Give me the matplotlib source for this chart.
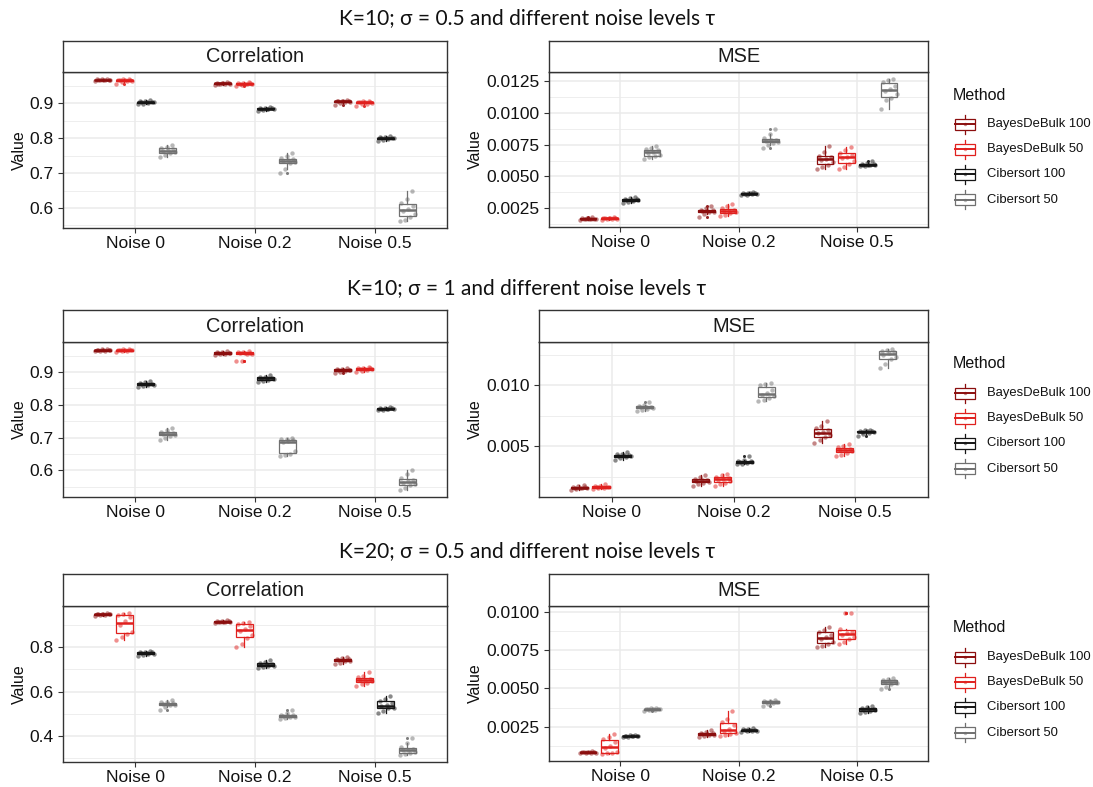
import numpy as np
import matplotlib
matplotlib.use("Agg")
import matplotlib.pyplot as plt
from matplotlib.patches import Rectangle

# ---------------- data ----------------
noise_levels = ["Noise 0", "Noise 0.2", "Noise 0.5"]
methods = ["BayesDeBulk 100", "BayesDeBulk 50", "Cibersort 100", "Cibersort 50"]
method_colors = ["#8B0E0E", "#E0201E", "#151515", "#707070"]
row_titles = ["K=10; \u03c3 = 0.5 and different noise levels \u03c4",
              "K=10; \u03c3 = 1 and different noise levels \u03c4",
              "K=20; \u03c3 = 0.5 and different noise levels \u03c4"]
metric_names = ["Correlation", "MSE"]

# Row 1 (K=10, sigma=0.5) - Correlation, per method: [Noise 0, Noise 0.2, Noise 0.5]
r1_corr_bdb100 = [[0.964,0.965,0.966,0.966,0.967,0.967,0.967,0.968,0.968,0.969],
                  [0.953,0.954,0.955,0.956,0.956,0.957,0.957,0.958,0.958,0.960],
                  [0.895,0.900,0.903,0.904,0.905,0.905,0.906,0.906,0.907,0.908]]
r1_corr_bdb50 = [[0.955,0.960,0.963,0.964,0.965,0.965,0.966,0.967,0.968,0.969],
                 [0.950,0.952,0.954,0.955,0.955,0.956,0.957,0.957,0.958,0.960],
                 [0.893,0.897,0.899,0.901,0.902,0.902,0.903,0.904,0.905,0.907]]
r1_corr_cib100 = [[0.898,0.899,0.901,0.902,0.903,0.903,0.904,0.905,0.906,0.909],
                  [0.879,0.880,0.882,0.883,0.884,0.884,0.885,0.885,0.886,0.888],
                  [0.792,0.794,0.797,0.799,0.800,0.800,0.801,0.802,0.803,0.806]]
r1_corr_cib50 = [[0.745,0.752,0.757,0.760,0.763,0.766,0.770,0.773,0.776,0.781],
                 [0.700,0.712,0.728,0.731,0.734,0.736,0.739,0.742,0.748,0.757],
                 [0.563,0.566,0.575,0.583,0.590,0.598,0.605,0.614,0.625,0.648]]
# Row 1 - MSE
r1_mse_bdb100 = [[0.00158,0.00162,0.00164,0.00166,0.00167,0.00168,0.00169,0.00171,0.00174,0.00180],
                 [0.00180,0.00205,0.00218,0.00222,0.00228,0.00232,0.00236,0.00240,0.00255,0.00270],
                 [0.00560,0.00575,0.00590,0.00610,0.00630,0.00640,0.00650,0.00660,0.00690,0.00740]]
r1_mse_bdb50 = [[0.00160,0.00163,0.00166,0.00168,0.00170,0.00171,0.00172,0.00174,0.00177,0.00182],
                [0.00190,0.00200,0.00210,0.00220,0.00228,0.00232,0.00240,0.00250,0.00265,0.00280],
                [0.00560,0.00575,0.00600,0.00625,0.00645,0.00655,0.00670,0.00685,0.00705,0.00730]]
r1_mse_cib100 = [[0.00288,0.00298,0.00306,0.00311,0.00314,0.00316,0.00319,0.00323,0.00330,0.00340],
                 [0.00352,0.00356,0.00360,0.00362,0.00364,0.00366,0.00367,0.00369,0.00372,0.00377],
                 [0.00578,0.00582,0.00586,0.00589,0.00591,0.00593,0.00595,0.00598,0.00604,0.00625]]
r1_mse_cib50 = [[0.00640,0.00650,0.00660,0.00670,0.00685,0.00695,0.00705,0.00712,0.00725,0.00740],
                [0.00720,0.00745,0.00765,0.00772,0.00778,0.00783,0.00790,0.00800,0.00830,0.00870],
                [0.01030,0.01100,0.01115,0.01150,0.01175,0.01190,0.01210,0.01240,0.01255,0.01265]]

# Row 2 (K=10, sigma=1) - Correlation
r2_corr_bdb100 = [[0.963,0.964,0.965,0.966,0.967,0.967,0.968,0.968,0.969,0.970],
                  [0.953,0.955,0.956,0.957,0.958,0.958,0.959,0.960,0.961,0.963],
                  [0.897,0.901,0.903,0.905,0.906,0.906,0.907,0.908,0.909,0.911]]
r2_corr_bdb50 = [[0.962,0.964,0.965,0.966,0.967,0.967,0.968,0.968,0.969,0.970],
                 [0.932,0.934,0.954,0.956,0.957,0.958,0.959,0.960,0.962,0.965],
                 [0.901,0.904,0.907,0.908,0.909,0.910,0.911,0.912,0.913,0.915]]
r2_corr_cib100 = [[0.854,0.857,0.859,0.861,0.862,0.863,0.864,0.866,0.868,0.872],
                  [0.870,0.873,0.876,0.878,0.880,0.881,0.882,0.884,0.886,0.890],
                  [0.783,0.785,0.786,0.787,0.788,0.788,0.789,0.790,0.791,0.794]]
r2_corr_cib50 = [[0.693,0.700,0.706,0.709,0.711,0.713,0.715,0.718,0.722,0.728],
                 [0.645,0.648,0.651,0.660,0.686,0.689,0.692,0.694,0.696,0.698],
                 [0.540,0.547,0.555,0.558,0.562,0.566,0.570,0.575,0.590,0.600]]
# Row 2 - MSE
r2_mse_bdb100 = [[0.00140,0.00148,0.00152,0.00155,0.00158,0.00160,0.00162,0.00165,0.00170,0.00178],
                 [0.00175,0.00190,0.00200,0.00208,0.00215,0.00220,0.00225,0.00232,0.00245,0.00260],
                 [0.00530,0.00550,0.00575,0.00590,0.00605,0.00615,0.00630,0.00650,0.00670,0.00705]]
r2_mse_bdb50 = [[0.00150,0.00155,0.00158,0.00161,0.00164,0.00166,0.00168,0.00171,0.00176,0.00185],
                [0.00170,0.00190,0.00200,0.00212,0.00225,0.00232,0.00240,0.00250,0.00262,0.00272],
                [0.00420,0.00430,0.00445,0.00460,0.00468,0.00472,0.00480,0.00490,0.00500,0.00520]]
r2_mse_cib100 = [[0.00390,0.00405,0.00412,0.00418,0.00422,0.00425,0.00428,0.00432,0.00440,0.00450],
                 [0.00350,0.00356,0.00362,0.00367,0.00370,0.00373,0.00377,0.00382,0.00390,0.00420],
                 [0.00585,0.00600,0.00612,0.00617,0.00620,0.00622,0.00624,0.00627,0.00630,0.00635]]
r2_mse_cib50 = [[0.00790,0.00800,0.00810,0.00815,0.00820,0.00823,0.00827,0.00832,0.00840,0.00860],
                [0.00870,0.00880,0.00900,0.00910,0.00925,0.00935,0.00965,0.01000,0.01010,0.01020],
                [0.01140,0.01180,0.01215,0.01235,0.01255,0.01265,0.01275,0.01285,0.01292,0.01300]]

# Row 3 (K=20, sigma=0.5) - Correlation
r3_corr_bdb100 = [[0.942,0.944,0.946,0.947,0.948,0.948,0.949,0.950,0.951,0.953],
                  [0.909,0.911,0.913,0.914,0.915,0.915,0.916,0.917,0.918,0.920],
                  [0.725,0.730,0.736,0.739,0.742,0.743,0.745,0.747,0.750,0.754]]
r3_corr_bdb50 = [[0.832,0.845,0.860,0.870,0.900,0.918,0.935,0.945,0.948,0.952],
                 [0.800,0.812,0.840,0.855,0.872,0.882,0.895,0.905,0.908,0.912],
                 [0.625,0.633,0.640,0.646,0.650,0.654,0.658,0.664,0.672,0.690]]
r3_corr_cib100 = [[0.758,0.763,0.767,0.770,0.772,0.774,0.776,0.778,0.780,0.783],
                  [0.705,0.710,0.714,0.717,0.720,0.722,0.724,0.727,0.732,0.742],
                  [0.505,0.512,0.524,0.528,0.533,0.538,0.548,0.558,0.565,0.578]]
r3_corr_cib50 = [[0.515,0.530,0.538,0.541,0.544,0.546,0.548,0.551,0.555,0.562],
                 [0.477,0.481,0.484,0.487,0.489,0.491,0.493,0.496,0.505,0.518],
                 [0.315,0.320,0.324,0.330,0.335,0.338,0.343,0.350,0.370,0.390]]
# Row 3 - MSE
r3_mse_bdb100 = [[0.00075,0.00078,0.00080,0.00081,0.00082,0.00083,0.00084,0.00085,0.00087,0.00090],
                 [0.00180,0.00188,0.00194,0.00198,0.00201,0.00203,0.00206,0.00210,0.00216,0.00228],
                 [0.00770,0.00780,0.00790,0.00805,0.00825,0.00835,0.00850,0.00870,0.00880,0.00900]]
r3_mse_bdb50 = [[0.00072,0.00075,0.00078,0.00082,0.00110,0.00125,0.00150,0.00168,0.00180,0.00200],
                [0.00190,0.00198,0.00205,0.00212,0.00222,0.00235,0.00260,0.00280,0.00300,0.00355],
                [0.00790,0.00805,0.00820,0.00835,0.00850,0.00862,0.00870,0.00885,0.00990,0.00992]]
r3_mse_cib100 = [[0.00182,0.00185,0.00187,0.00188,0.00189,0.00190,0.00191,0.00192,0.00194,0.00197],
                 [0.00215,0.00219,0.00222,0.00224,0.00226,0.00228,0.00230,0.00232,0.00235,0.00240],
                 [0.00340,0.00347,0.00353,0.00358,0.00362,0.00365,0.00368,0.00372,0.00378,0.00388]]
r3_mse_cib50 = [[0.00352,0.00358,0.00361,0.00363,0.00365,0.00366,0.00367,0.00368,0.00370,0.00374],
                [0.00383,0.00398,0.00404,0.00408,0.00410,0.00412,0.00414,0.00416,0.00419,0.00425],
                [0.00495,0.00510,0.00530,0.00538,0.00543,0.00547,0.00550,0.00555,0.00560,0.00568]]

# y tick values / labels per panel
r1_corr_ticks = [0.6, 0.7, 0.8, 0.9]
r1_corr_labels = ["0.6", "0.7", "0.8", "0.9"]
r1_mse_ticks = [0.0025, 0.0050, 0.0075, 0.0100, 0.0125]
r1_mse_labels = ["0.0025", "0.0050", "0.0075", "0.0100", "0.0125"]
r2_corr_ticks = [0.6, 0.7, 0.8, 0.9]
r2_corr_labels = ["0.6", "0.7", "0.8", "0.9"]
r2_mse_ticks = [0.005, 0.010]
r2_mse_labels = ["0.005", "0.010"]
r3_corr_ticks = [0.4, 0.6, 0.8]
r3_corr_labels = ["0.4", "0.6", "0.8"]
r3_mse_ticks = [0.0025, 0.0050, 0.0075, 0.0100]
r3_mse_labels = ["0.0025", "0.0050", "0.0075", "0.0100"]

panels_data = [
    [[r1_corr_bdb100, r1_corr_bdb50, r1_corr_cib100, r1_corr_cib50],
     [r1_mse_bdb100, r1_mse_bdb50, r1_mse_cib100, r1_mse_cib50]],
    [[r2_corr_bdb100, r2_corr_bdb50, r2_corr_cib100, r2_corr_cib50],
     [r2_mse_bdb100, r2_mse_bdb50, r2_mse_cib100, r2_mse_cib50]],
    [[r3_corr_bdb100, r3_corr_bdb50, r3_corr_cib100, r3_corr_cib50],
     [r3_mse_bdb100, r3_mse_bdb50, r3_mse_cib100, r3_mse_cib50]],
]
panels_ticks = [[(r1_corr_ticks, r1_corr_labels), (r1_mse_ticks, r1_mse_labels)],
                [(r2_corr_ticks, r2_corr_labels), (r2_mse_ticks, r2_mse_labels)],
                [(r3_corr_ticks, r3_corr_labels), (r3_mse_ticks, r3_mse_labels)]]

# ---------------- layout (pixels) ----------------
W, H = 1093, 787
FONT = "Liberation Sans"
plt.rcParams["font.family"] = [FONT, "DejaVu Sans"]

# (x0, x1, y_top, y_bottom) of plotting panels, strip top
layout = [
    [(63, 447, 72, 228), (549, 928, 72, 227)],
    [(63, 447, 342, 497), (539, 928, 342, 497)],
    [(63, 447, 606, 762), (549, 928, 606, 761)],
]
strip_tops = [41, 310, 574]
title_y = [18, 288, 551]
ylabel_x = [19, 475]

fig = plt.figure(figsize=(W / 100, H / 100), dpi=100)
fig.patch.set_facecolor("white")


def add_ax(x0, x1, yt, yb):
    return fig.add_axes([x0 / W, 1 - yb / H, (x1 - x0) / W, (yb - yt) / H])


offsets = [-0.27, -0.09, 0.09, 0.27]
box_w = 0.14
grid_col = "#EBEBEB"
frame_col = "#333333"

for r in range(3):
    for c in range(2):
        x0, x1, yt, yb = layout[r][c]
        ax = add_ax(x0, x1, yt, yb)
        ax.set_facecolor("white")
        groups = panels_data[r][c]
        allv = np.concatenate([np.ravel(np.array(g)) for g in groups])
        lo, hi = allv.min(), allv.max()
        pad = 0.05 * (hi - lo)
        ylo, yhi = lo - pad, hi + pad

        ticks, labels = panels_ticks[r][c]
        step = ticks[1] - ticks[0]
        minor = [t - step / 2 for t in ticks] + [ticks[-1] + step / 2]
        minor = [m for m in minor if ylo <= m <= yhi]
        ax.set_yticks(ticks)
        ax.set_yticklabels(labels)
        ax.set_yticks(minor, minor=True)
        ax.set_xticks([1, 2, 3])
        ax.set_xticklabels(noise_levels)
        ax.set_ylim(ylo, yhi)
        ax.set_xlim(0.4, 3.6)
        ax.grid(True, which="major", color=grid_col, lw=1.1, zorder=0)
        ax.grid(True, which="minor", axis="y", color=grid_col, lw=0.6, zorder=0)
        ax.set_axisbelow(True)
        ax.tick_params(axis="both", which="major", length=3.5, width=0.8,
                       color=frame_col, labelsize=12.5, labelcolor="#111111")
        ax.tick_params(axis="x", pad=2)
        ax.tick_params(axis="y", pad=3)
        ax.tick_params(which="minor", length=0)
        for s in ax.spines.values():
            s.set_color(frame_col)
            s.set_linewidth(1.0)

        for j, vals in enumerate(groups):
            col = method_colors[j]
            pos = [i + 1 + offsets[j] for i in range(3)]
            ax.boxplot(vals, positions=pos, widths=box_w, patch_artist=True,
                       showcaps=False, manage_ticks=False,
                       boxprops=dict(facecolor="white", edgecolor=col, lw=0.9),
                       medianprops=dict(color=col, lw=1.8),
                       whiskerprops=dict(color=col, lw=0.9),
                       flierprops=dict(marker="o", markersize=2.2, markerfacecolor=col,
                                       markeredgewidth=0, alpha=0.9),
                       zorder=2)
            for i, v in enumerate(vals):
                n = len(v)
                perm = (np.arange(n) * 3) % n
                jit = np.linspace(-0.065, 0.065, n)[perm]
                ax.scatter(np.full(n, pos[i]) + jit, v, s=10, color=col,
                           alpha=0.5, linewidths=0, zorder=3)
        ax.set_ylim(ylo, yhi)
        ax.set_xlim(0.4, 3.6)

        # strip
        st = strip_tops[r]
        sax = add_ax(x0, x1, st, yt)
        sax.set_xticks([]); sax.set_yticks([])
        sax.set_facecolor("white")
        for s in sax.spines.values():
            s.set_color(frame_col)
            s.set_linewidth(1.0)
        sax.text(0.5, 0.5, metric_names[c], ha="center", va="center",
                 fontsize=14.4, transform=sax.transAxes, color="#1a1a1a")

# overlay for titles, y labels and legends
ov = fig.add_axes([0, 0, 1, 1])
ov.set_xlim(0, W); ov.set_ylim(H, 0); ov.axis("off")
ov.patch.set_alpha(0)

for r in range(3):
    ov.text(527, title_y[r], row_titles[r], ha="center", va="center",
            fontsize=15, family=["Lato", "DejaVu Sans"], color="#111111")
    for c in range(2):
        x0, x1, yt, yb = layout[r][c]
        ov.text(ylabel_x[c], (yt + yb) / 2, "Value", rotation=90, ha="center",
                va="center", fontsize=11.5, color="#111111")
    st = strip_tops[r]
    ov.text(953, st + 54, "Method", ha="left", va="center", fontsize=11.5,
            color="#111111")
    for j, m in enumerate(methods):
        yc = st + 83 + j * 25.2
        col = method_colors[j]
        ov.plot([965, 965], [yc - 9.5, yc + 9.5], color=col, lw=0.9)
        ov.add_patch(Rectangle((955, yc - 5.5), 20, 11, facecolor="white",
                               edgecolor=col, lw=0.9, zorder=3))
        ov.plot([955, 975], [yc, yc], color=col, lw=1.4, zorder=4)
        ov.scatter([965], [yc], s=6, color=col, alpha=0.5, linewidths=0, zorder=5)
        ov.text(987, yc, m, ha="left", va="center", fontsize=9.4, color="#111111")

fig.savefig("out.png", dpi=100)
